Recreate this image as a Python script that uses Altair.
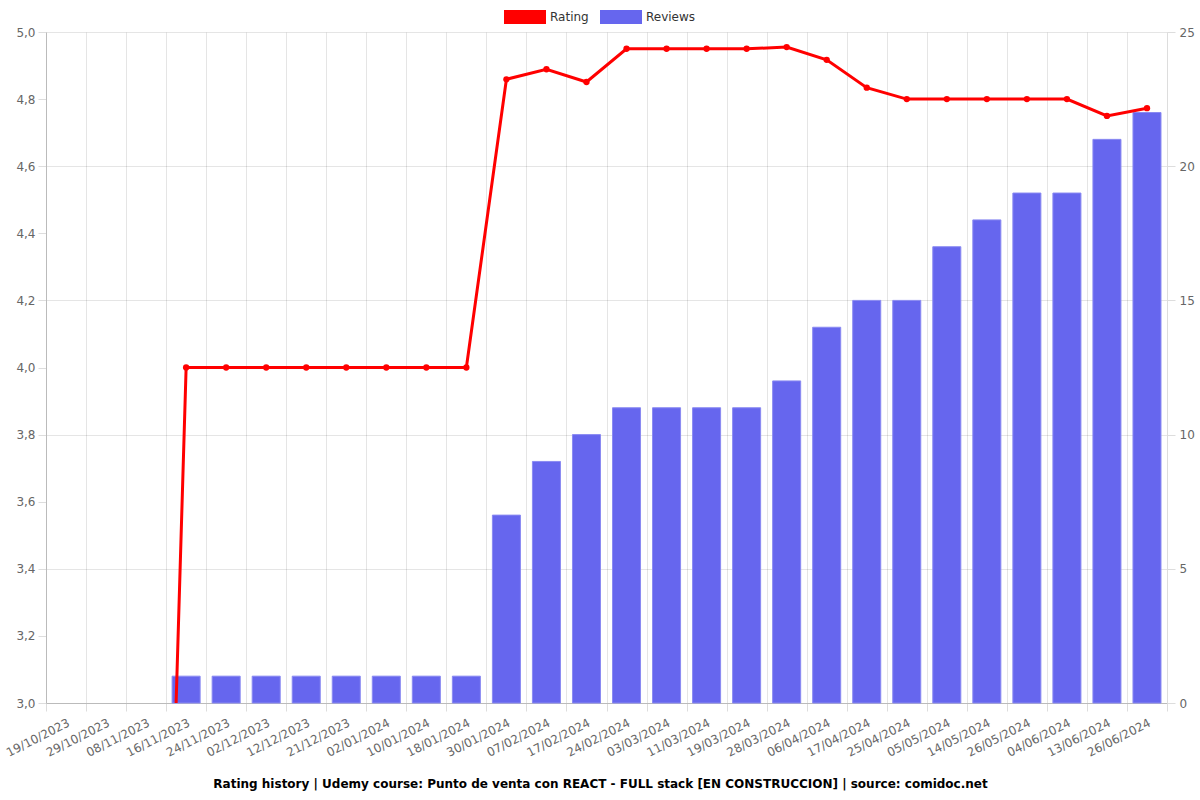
import altair as alt
import pandas as pd

dates = ["19/10/2023", "29/10/2023", "08/11/2023", "16/11/2023", "24/11/2023", "02/12/2023",
         "12/12/2023", "21/12/2023", "02/01/2024", "10/01/2024", "18/01/2024", "30/01/2024",
         "07/02/2024", "17/02/2024", "24/02/2024", "03/03/2024", "11/03/2024", "19/03/2024",
         "28/03/2024", "06/04/2024", "17/04/2024", "25/04/2024", "05/05/2024", "14/05/2024",
         "26/05/2024", "04/06/2024", "13/06/2024", "26/06/2024"]
ratings = [0, 0, 0, 4.0, 4.0, 4.0, 4.0, 4.0, 4.0, 4.0, 4.0, 4.859, 4.889, 4.851, 4.95, 4.95,
           4.95, 4.95, 4.955, 4.917, 4.834, 4.8, 4.8, 4.8, 4.8, 4.8, 4.75, 4.773]
reviews = [0, 0, 0, 1, 1, 1, 1, 1, 1, 1, 1, 7, 9, 10, 11, 11, 11, 11, 12, 14, 15, 15, 17, 18,
           19, 19, 21, 22]

df = pd.DataFrame({"date": dates, "rating": ratings, "reviews": reviews,
                   "series": ["Reviews"] * len(dates)})

FONT = "DejaVu Sans"
xenc = alt.X("date:N", sort=dates, title=None,
             scale=alt.Scale(paddingInner=0, paddingOuter=0),
             axis=alt.Axis(labelAngle=-27, tickBand="extent", tickSize=8, labelPadding=6,
                           labelFontSize=12, labelColor="#666", labelFont=FONT,
                           domainColor="#bbb", tickColor="#ddd", gridColor="#000",
                           gridOpacity=0.1, grid=True))

bars = alt.Chart(df).transform_filter("datum.reviews > 0").mark_bar(
    width=alt.RelativeBandSize(0.7), stroke="#8a8af2", strokeWidth=1).encode(
    x=xenc,
    y=alt.Y("reviews:Q", title=None,
            scale=alt.Scale(domain=[0, 25], nice=False),
            axis=alt.Axis(orient="right", values=[0, 5, 10, 15, 20, 25], tickSize=8,
                          labelPadding=4, labelFontSize=12, labelColor="#666",
                          labelFont=FONT, domainColor="#ddd", tickColor="#ddd",
                          gridColor="#000", gridOpacity=0.1)),
    color=alt.Color("series:N",
                    scale=alt.Scale(domain=["Rating", "Reviews"], range=["#ff0000", "#6666ee"]),
                    legend=alt.Legend(title=None, orient="none", direction="horizontal",
                                      legendX=465, legendY=-29,
                                      symbolType="M-1.5,-0.5H1.5V0.5H-1.5Z",
                                      symbolSize=784, symbolStrokeWidth=0, symbolOpacity=1,
                                      labelFontSize=12, labelFont=FONT, labelColor="#333",
                                      labelOffset=11, columnPadding=11)),
)

yrating = alt.Y("rating:Q", title=None,
                scale=alt.Scale(domain=[3, 5], nice=False),
                axis=alt.Axis(orient="left", values=[3.0, 3.2, 3.4, 3.6, 3.8, 4.0, 4.2, 4.4, 4.6, 4.8, 5.0],
                              labelExpr="replace(format(datum.value, '.1f'), '.', ',')",
                              tickSize=8, labelPadding=3, labelFontSize=12, labelColor="#666",
                              labelFont=FONT, domainColor="#bbb", tickColor="#ddd",
                              gridColor="#000", gridOpacity=0.1))

line = alt.Chart(df).mark_line(color="#ff0000", strokeWidth=3, clip=True).encode(
    x=alt.X("date:N", sort=dates), y=yrating)
points = alt.Chart(df).mark_point(filled=True, color="#ff0000", size=40, opacity=1,
                                  clip=True).encode(
    x=alt.X("date:N", sort=dates), y=alt.Y("rating:Q"))

rating_layer = alt.layer(line, points)

chart = alt.layer(bars, rating_layer).resolve_scale(y="independent").properties(
    width=1121, height=671,
    padding={"left": 46, "top": 32, "right": 33, "bottom": 97},
    autosize=alt.AutoSizeParams(type="none"),
    title=alt.TitleParams(
        "Rating history | Udemy course: Punto de venta con REACT - FULL stack [EN CONSTRUCCION] | source: comidoc.net",
        orient="bottom", font=FONT, fontSize=12, fontWeight="bold", color="#000",
        offset=21, dx=-6),
).configure_view(stroke=None)

chart.save("out.html", embed_options={"renderer": "svg", "actions": False})
